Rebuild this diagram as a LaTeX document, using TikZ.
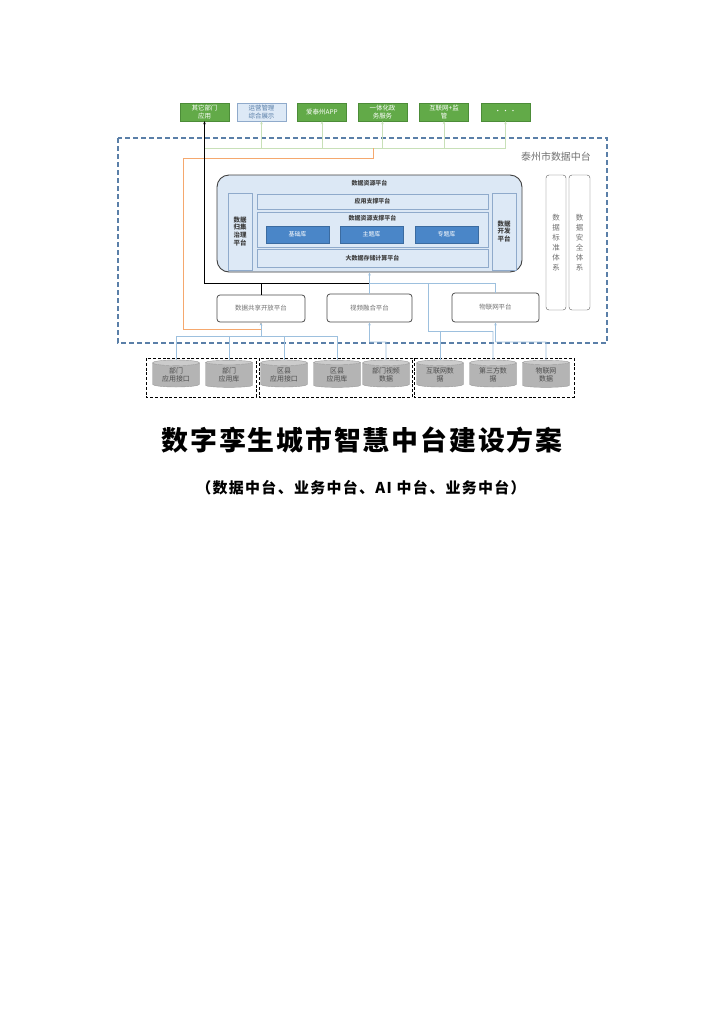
\documentclass[tikz,border=0pt]{standalone}
\usepackage{fontspec}
\setmainfont{Noto Sans CJK SC}
\usetikzlibrary{arrows.meta,shapes.geometric}
\definecolor{gfill}{HTML}{62AA48}
\definecolor{gdraw}{HTML}{4C8C38}
\definecolor{gline}{HTML}{C8E0B8}
\definecolor{oline}{HTML}{F5A86E}
\definecolor{bline}{HTML}{9DC0DE}
\definecolor{dashc}{HTML}{5A7FA8}
\definecolor{rbfill}{HTML}{DCE8F5}
\definecolor{ibfill}{HTML}{DDE9F6}
\definecolor{ibdraw}{HTML}{8FAACB}
\definecolor{blueb}{HTML}{4A86C8}
\definecolor{txtg}{HTML}{707070}
\definecolor{cylbody}{HTML}{B4B4B4}
\definecolor{cylend}{HTML}{CCCCCC}
\tikzset{
  every node/.style={inner sep=0pt, align=center},
  gbox/.style={draw=gdraw, fill=gfill, minimum width=49bp, minimum height=18bp, text=white, font=\fontsize{6.5}{7.5}\selectfont},
  lbbox/.style={draw=ibdraw, fill=ibfill, minimum width=49bp, minimum height=18bp, text=dashc, font=\fontsize{6.5}{7.5}\selectfont},
  platbox/.style={draw=black!70, fill=white, rounded corners=3bp, line width=0.8pt, text=txtg, font=\fontsize{6.5}{7.5}\selectfont},
  inbox/.style={draw=ibdraw, fill=ibfill, font=\fontsize{6}{7}\selectfont\bfseries, text=black!75},
  bluebox/.style={fill=blueb, draw=blueb!80!black, minimum width=63bp, minimum height=17bp, text=white, font=\fontsize{6}{7}\selectfont},
  tallbox/.style={draw=black!65, fill=white, rounded corners=3bp, minimum height=135bp, text=txtg, font=\fontsize{7.5}{10}\selectfont},
  cyl/.style={cylinder, shape border rotate=90, aspect=0.2, minimum width=47bp, minimum height=27bp, draw=gray!80, cylinder uses custom fill, cylinder body fill=cylbody, cylinder end fill=cylend, text=black!70, font=\fontsize{7}{8}\selectfont},
  gl/.style={draw=gline, line width=0.7pt},
  ol/.style={draw=oline, line width=0.8pt},
  bl/.style={draw=bline, line width=0.8pt},
  blk/.style={draw=black, line width=0.9pt},
  tip/.style={-{Stealth[length=3bp,width=2.5bp]}},
  srcbox/.style={draw=black, dashed, dash pattern=on 3bp off 1.8bp, line width=1pt}
}
\begin{document}
\begin{tikzpicture}[x=1bp,y=-1bp]
\useasboundingbox (0,0) rectangle (724,1024);
\fill[white] (0,0) rectangle (724,1024);

% outer dashed frame
\draw[dashc, line width=1.2pt, dash pattern=on 5bp off 3bp] (118,138) rectangle (607,343);
\node[text=txtg, font=\fontsize{10}{12}\selectfont] (lbl) at (556,157) {泰州市数据中台};

% top boxes
\node[gbox] (b1) at (204.5,112) {其它部门\\应用};
\node[lbbox] (b2) at (261.5,112) {运营管理\\综合展示};
\node[gbox] (b3) at (322,112) {爱泰州APP};
\node[gbox] (b4) at (382.5,112) {一体化政\\务服务};
\node[gbox] (b5) at (444,112) {互联网+监\\管};
\node[gbox] (b6) at (505.5,112) {·\,·\,·};

% green bus
\coordinate (gL) at (204.5,148);
\coordinate (gR) at (505.5,148);
\draw[gl] (gL) -- (gR);
\foreach \b in {b2,b3,b4,b5,b6}{
  \draw[gl,tip] (\b.south |- gL) -- (\b.south);
}

% orange path
\coordinate (o1) at (373,148);
\coordinate (o2) at (373,158);
\coordinate (o3) at (183,158);
\coordinate (o4) at (183,329);

% main rounded box
\node[draw=black!75, fill=rbfill, rounded corners=12bp, line width=0.9pt, minimum width=305bp, minimum height=97bp] (rb) at (369.5,223.5) {};
\node[font=\fontsize{6}{7}\selectfont\bfseries, text=black!75] (rbt) at (369.5,183) {数据资源平台};
\node[inbox, minimum width=24bp, minimum height=77bp, font=\fontsize{6.5}{8}\selectfont\bfseries] (lg) at (240,231.5) {数据\\归集\\治理\\平台};
\node[inbox, minimum width=24bp, minimum height=77bp, font=\fontsize{6.5}{8}\selectfont\bfseries] (rd) at (504,231.5) {数据\\开发\\平台};
\node[inbox, minimum width=231bp, minimum height=15bp] (app) at (372.5,201.5) {应用支撑平台};
\node[inbox, minimum width=231bp, minimum height=35bp] (res) at (372.5,229.5) {};
\node[font=\fontsize{6}{7}\selectfont\bfseries, text=black!75] (rest) at (372.5,218) {数据资源支撑平台};
\node[bluebox] (base) at (297.5,234.5) {基础库};
\node[bluebox] (theme) at (371.5,234.5) {主题库};
\node[bluebox] (spec) at (446.5,234.5) {专题库};
\node[inbox, minimum width=231bp, minimum height=18bp] (big) at (372.5,258) {大数据存储计算平台};

% right tall boxes
\node[tallbox, minimum width=20bp] (std) at (556,242.5) {数\\据\\标\\准\\体\\系};
\node[tallbox, minimum width=21bp] (sec) at (579.5,242.5) {数\\据\\安\\全\\体\\系};

% platforms
\node[platbox, minimum width=88bp, minimum height=27bp] (share) at (261,308.5) {数据共享开放平台};
\node[platbox, minimum width=85bp, minimum height=28bp] (video) at (369.5,308) {视频融合平台};
\node[platbox, minimum width=87bp, minimum height=29bp] (iot) at (495.5,307.5) {物联网平台};

% source dashed boxes
\draw[srcbox] (146,358) rectangle (256,397);
\draw[srcbox] (259,358) rectangle (412,397);
\draw[srcbox] (414,358) rectangle (574,397);

% cylinders
\node[cyl] (c1) at (176,375) {部门\\应用接口};
\node[cyl] (c2) at (229,375) {部门\\应用库};
\node[cyl] (c3) at (284,375) {区县\\应用接口};
\node[cyl] (c4) at (337,375) {区县\\应用库};
\node[cyl] (c5) at (386,375) {部门视频\\数据};
\node[cyl] (c6) at (440,375) {互联网数\\据};
\node[cyl] (c7) at (493,375) {第三方数\\据};
\node[cyl] (c8) at (546,375) {物联网\\数据};

% orange connector
\draw[ol] (o1) -- (o2) -- (o3) -- (o4) -- (share.south |- o4);
\draw[ol,tip] (share.south |- o4) -- (share.south);

% black connector
\coordinate (k1) at (261,283);
\coordinate (k2) at (369.5,283);
\coordinate (k3) at (204.5,283);
\draw[blk] (share.north) -- (k1);
\draw[blk,tip] (k2) -- (k3) -- (b1.south);

% blue: platforms to main box
\coordinate (j1) at (495.5,283);
\coordinate (j2) at (428,283);
\draw[bl,tip] (video.north) -- (video.north |- rb.south);
\draw[bl] (iot.north) -- (j1) -- (k2);
\coordinate (j3) at (428,331);
\coordinate (j4) at (493,331);
\draw[bl] (j2) -- (j3) -- (j4);
\draw[bl] (c6.north) -- (c6.north |- j3);
\draw[bl] (c7.north) -- (j4);

% sources to platforms
\coordinate (s1) at (176,336);
\coordinate (s2) at (337,336);
\draw[bl] (s1) -- (s2);
\foreach \c in {c1,c2,c3,c4}{ \draw[bl] (\c.north) -- (\c.north |- s1); }
\draw[bl,tip] (share.south |- s1) -- (share.south);

\coordinate (v1) at (386,342);
\draw[bl] (c5.north) -- (v1) -- (video.south |- v1);
\draw[bl,tip] (video.south |- v1) -- (video.south);

\coordinate (w1) at (546,342);
\draw[bl] (c8.north) -- (w1) -- (iot.south |- w1);
\draw[bl,tip] (iot.south |- w1) -- (iot.south);

% titles
\node[font=\fontsize{27}{30}\selectfont\bfseries\addfontfeature{LetterSpace=7}] (title) at (362,440) {数字孪生城市智慧中台建设方案};
\node[font=\fontsize{15}{18}\selectfont\bfseries\addfontfeature{LetterSpace=9}] (sub) at (361,488) {（数据中台、业务中台、AI 中台、业务中台）};
\end{tikzpicture}
\end{document}
